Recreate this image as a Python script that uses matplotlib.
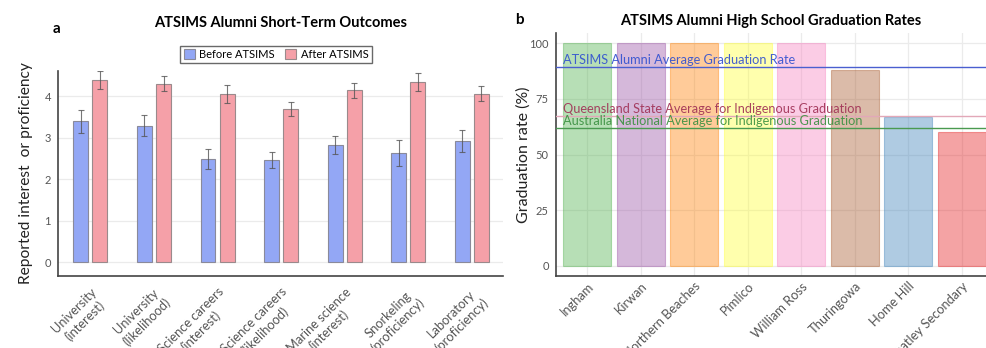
import matplotlib
matplotlib.use("Agg")
import matplotlib.pyplot as plt
import numpy as np

plt.rcParams['font.family'] = ['Lato', 'DejaVu Sans']

# panel a
outcomes = ["University\n(interest)", "University\n(likelihood)", "Science careers\n(interest)",
            "Science careers\n(likelihood)", "Marine science\n(interest)", "Snorkeling\n(proficiency)",
            "Laboratory\n(proficiency)"]
before_mean = [3.40, 3.29, 2.48, 2.46, 2.83, 2.63, 2.92]
before_err = [0.28, 0.25, 0.24, 0.20, 0.21, 0.31, 0.26]
after_mean = [4.39, 4.30, 4.06, 3.69, 4.14, 4.34, 4.06]
after_err = [0.22, 0.18, 0.21, 0.17, 0.19, 0.22, 0.18]

# panel b
schools = ["Ingham", "Kirwan", "Northern Beaches", "Pimlico", "William Ross",
           "Thuringowa", "Home Hill", "Heatley Secondary"]
grad_rate = [100, 100, 100, 100, 100, 88, 67, 60]
school_colors = ["#4daf4a", "#984ea3", "#ff7f00", "#ffff33", "#f781bf",
                 "#a65628", "#377eb8", "#e41a1c"]
ref_names = ["ATSIMS Alumni Average Graduation Rate",
             "Queensland State Average for Indigenous Graduation",
             "Australia National Average for Indigenous Graduation"]
ref_values = [np.mean(grad_rate), 67.5, 61.8]
ref_text_colors = ["#3050d0", "#a03055", "#3a9040"]
ref_line_colors = ["#4a5fd0", "#e2a8b8", "#4a9a50"]

tick_color = "#555555"
spine_color = "#444444"
grid_color = "#ebebeb"

fig = plt.figure(figsize=(9.86, 3.48), dpi=100)

# ---------- a ----------
ax1 = fig.add_axes([0.0588, 0.207, 0.4513, 0.589])
x = np.arange(len(outcomes))
w = 0.235
ax1.bar(x - 0.15, before_mean, w, color="#93a7f5", edgecolor="#8a8a9a", linewidth=0.8,
        label="Before ATSIMS", zorder=2)
ax1.bar(x + 0.15, after_mean, w, color="#f5a0a8", edgecolor="#9a8a8c", linewidth=0.8,
        label="After ATSIMS", zorder=2)
ax1.errorbar(x - 0.15, before_mean, yerr=before_err, fmt="none", ecolor="#555555",
             elinewidth=0.8, capsize=2.5, capthick=0.8, alpha=0.8, zorder=3)
ax1.errorbar(x + 0.15, after_mean, yerr=after_err, fmt="none", ecolor="#555555",
             elinewidth=0.8, capsize=2.5, capthick=0.8, alpha=0.8, zorder=3)
ax1.set_xlim(-0.51, 6.49)
ax1.set_ylim(-0.33, 4.61)
ax1.set_yticks([0, 1, 2, 3, 4])
ax1.yaxis.grid(True, color=grid_color, linewidth=0.9, zorder=0)
ax1.set_axisbelow(True)
ax1.set_xticks(x)
ax1.set_xticklabels(outcomes, rotation=45, ha="right", rotation_mode="anchor",
                    multialignment="center", fontsize=9.3)
ax1.set_ylabel("Reported interest  or proficiency", fontsize=11.2, color="#222222", labelpad=8)
ax1.set_title("ATSIMS Alumni Short-Term Outcomes", fontsize=10.5, fontweight="bold", pad=32)
ax1.text(-0.012, 1.185, "a", transform=ax1.transAxes, fontsize=11, fontweight="bold")
leg = ax1.legend(loc="upper center", bbox_to_anchor=(0.49, 1.15), ncol=2, fontsize=8,
                 frameon=True, fancybox=False, edgecolor="#444444", handlelength=1.0,
                 handleheight=1.0, handletextpad=0.4, columnspacing=0.9, borderpad=0.3)
leg.get_frame().set_linewidth(1.0)

# ---------- b ----------
ax2 = fig.add_axes([0.5636, 0.207, 0.4364, 0.699])
xb = np.arange(len(schools))
ax2.bar(xb, grad_rate, 0.9, color=school_colors, alpha=0.4, edgecolor=school_colors,
        linewidth=0.8, zorder=2)
for name, val, tc, lc in zip(ref_names, ref_values, ref_text_colors, ref_line_colors):
    ax2.axhline(val, color=lc, linewidth=1.0, zorder=3)
    ax2.text(-0.45, val + 0.4, name, color=tc, fontsize=9.2, va="bottom", ha="left",
             alpha=0.9, zorder=4)
ax2.set_xlim(-0.59, 7.45)
ax2.set_ylim(-4.5, 104.7)
ax2.set_yticks([0, 25, 50, 75, 100])
ax2.grid(True, color=grid_color, linewidth=0.9, zorder=0)
ax2.set_axisbelow(True)
ax2.set_xticks(xb)
ax2.set_xticklabels(schools, rotation=45, ha="right", rotation_mode="anchor", fontsize=9.3)
ax2.set_ylabel("Graduation rate (%)", fontsize=11.5, color="#222222", labelpad=-1)
ax2.set_title("ATSIMS Alumni High School Graduation Rates", fontsize=10.5,
              fontweight="bold", pad=5.5)
ax2.text(-0.095, 1.034, "b", transform=ax2.transAxes, fontsize=11, fontweight="bold")

for ax in (ax1, ax2):
    for s in ("top", "right"):
        ax.spines[s].set_visible(False)
    for s in ("left", "bottom"):
        ax.spines[s].set_color(spine_color)
        ax.spines[s].set_linewidth(1.2)
    ax.tick_params(axis="y", length=0, labelsize=8, colors=tick_color, pad=5)
    ax.tick_params(axis="x", length=0, colors=tick_color)
ax1.tick_params(axis="x", pad=7)
ax2.tick_params(axis="x", pad=3)

fig.savefig("out.png", dpi=100)
